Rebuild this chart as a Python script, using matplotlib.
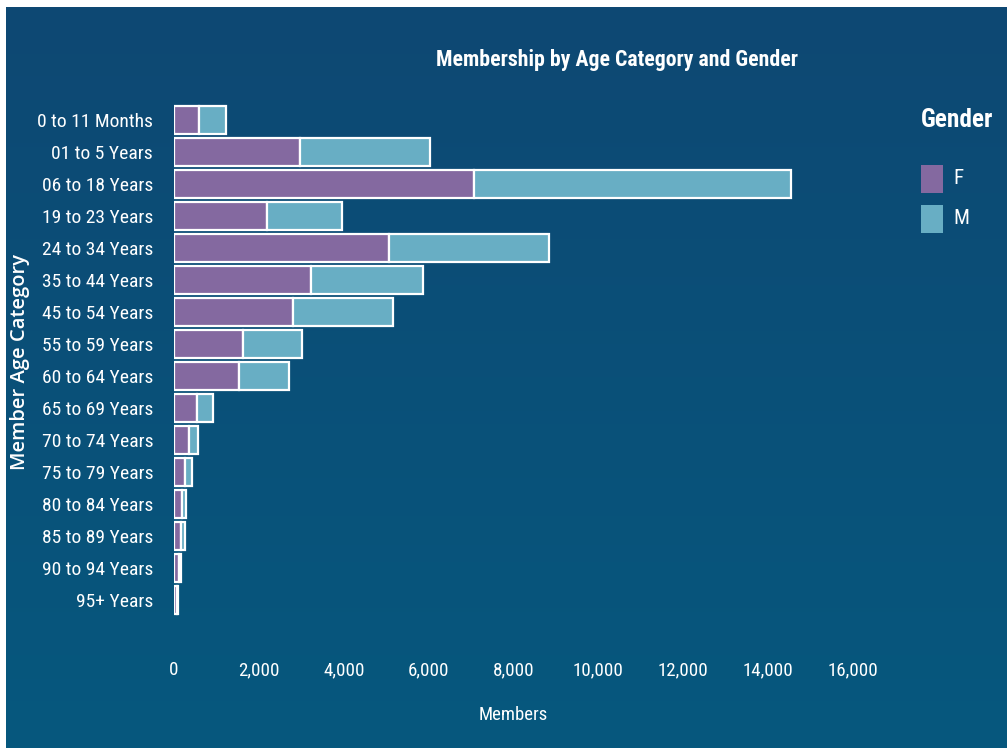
import matplotlib
matplotlib.use('Agg')
import matplotlib.pyplot as plt
import matplotlib.font_manager as fm
import numpy as np
from matplotlib.patches import Rectangle
from matplotlib.ticker import FuncFormatter

categories = ['0 to 11 Months', '01 to 5 Years', '06 to 18 Years', '19 to 23 Years',
              '24 to 34 Years', '35 to 44 Years', '45 to 54 Years', '55 to 59 Years',
              '60 to 64 Years', '65 to 69 Years', '70 to 74 Years', '75 to 79 Years',
              '80 to 84 Years', '85 to 89 Years', '90 to 94 Years', '95+ Years']
female = [580, 2970, 7060, 2190, 5070, 3230, 2810, 1630, 1530, 550, 350, 250, 190, 170, 120, 70]
male = [650, 3070, 7490, 1780, 3770, 2640, 2360, 1380, 1170, 380, 210, 170, 90, 80, 50, 30]
x_ticks = [0, 2000, 4000, 6000, 8000, 10000, 12000, 14000, 16000]

col_f = '#8469a0'
col_m = '#68aec4'

# condensed face if there is one, otherwise Roboto a little smaller
names = {f.name for f in fm.fontManager.ttflist}
narrow, k = 'Roboto', 0.86
for cand in ['Roboto Condensed', 'Liberation Sans Narrow']:
    if cand in names:
        narrow, k = cand, 1.0
        break

W, H = 1007, 748
fig = plt.figure(figsize=(W / 100, H / 100), dpi=100, facecolor='white')

# background with slight vertical gradient
bg = fig.add_axes([6 / W, 0, 1 - 6 / W, 1 - 7 / H])
grad = np.linspace(0, 1, 256).reshape(-1, 1)
cmap = matplotlib.colors.LinearSegmentedColormap.from_list('bg', ['#0e4873', '#06587e'])
bg.imshow(grad, aspect='auto', cmap=cmap, extent=[0, 1, 0, 1], origin='upper')
bg.axis('off')

# main axes: x 0..16000 maps to px 174..853
top_px, bot_px = 104, 650
ax = fig.add_axes([174 / W, 1 - bot_px / H, (853 - 174) / W, (bot_px - top_px) / H])
ax.patch.set_alpha(0)
y = np.arange(len(categories))
ax.barh(y, female, height=0.9, color=col_f, edgecolor='white', linewidth=1.6)
ax.barh(y, male, left=female, height=0.9, color=col_m, edgecolor='white', linewidth=1.6)
ax.set_xlim(0, 16000)
ax.set_ylim(15.5 + (bot_px - 616) / 32, -0.5)
ax.set_yticks(y)
ax.set_yticklabels(categories, fontsize=14 * k, family=narrow, color='white')
ax.set_xticks(x_ticks)
ax.xaxis.set_major_formatter(FuncFormatter(lambda v, p: f'{int(v):,}'))
for lab in ax.get_xticklabels():
    lab.set_fontsize(13.7 * k)
    lab.set_family(narrow)
    lab.set_color('white')
ax.tick_params(axis='y', length=0, pad=15)
ax.tick_params(axis='x', length=0, pad=8)
for s in ax.spines.values():
    s.set_visible(False)

ax.set_xlabel('Members', fontsize=13.5 * k, family=narrow, color='white', labelpad=19)
fig.text(20 / W, 1 - 362 / H, 'Member Age Category', rotation=90, ha='center', va='center',
         fontsize=14.5, family='Open Sans', fontweight='semibold', color='white')

fig.text(617 / W, 1 - 60 / H, 'Membership by Age Category and Gender', ha='center', va='center',
         fontsize=15.7 * k, family=narrow, fontweight='bold', color='white')

# legend
fig.text(921 / W, 1 - 120 / H, 'Gender', ha='left', va='center', fontsize=18.2 * k,
         family=narrow, fontweight='bold', color='white')
for i, (lab, c) in enumerate([('F', col_f), ('M', col_m)]):
    yc = 179 + 40 * i
    fig.patches.append(Rectangle((921 / W, 1 - (yc + 14) / H), 22 / W, 28 / H,
                                 transform=fig.transFigure, facecolor=c, edgecolor='none'))
    fig.text(953 / W, 1 - yc / H, lab, ha='left', va='center', fontsize=15 * k,
             family=narrow, color='white')

fig.savefig('out.png', dpi=100, facecolor='white')
